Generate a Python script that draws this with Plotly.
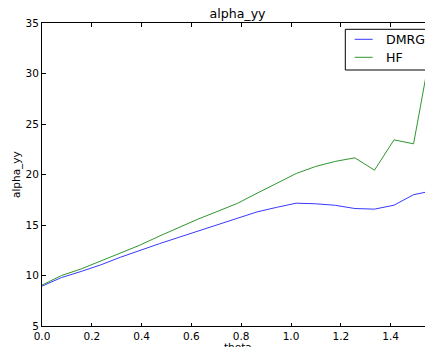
import math
import plotly.graph_objects as go

# theta sampled at k*pi/40, k = 0..20
theta = [k * math.pi / 40 for k in range(21)]
dmrg = [8.95, 9.8, 10.4, 11.05, 11.8, 12.5, 13.15, 13.78, 14.42, 15.07, 15.73,
        16.3, 16.75, 17.16, 17.1, 16.95, 16.63, 16.57, 16.96, 18.0, 18.4]
hf = [9.05, 10.0, 10.65, 11.45, 12.25, 13.0, 13.9, 14.77, 15.6, 16.37, 17.15,
      18.15, 19.15, 20.1, 20.8, 21.3, 21.65, 20.43, 23.43, 23.04, 33.6]
xticks = [0.0, 0.2, 0.4, 0.6, 0.8, 1.0, 1.2, 1.4]
yticks = [5, 10, 15, 20, 25, 30, 35]
series_names = ["DMRG", "HF"]
colors = ["#3838ff", "#2f962f"]

W, H = 425, 347
L, R, T, B = 42, 0, 23, 21
pw, ph = W - L - R, H - T - B
px_per_unit = 249.0

def xp(px):
    return (px - L) / pw

def yp(py):
    return (H - B - py) / ph

fig = go.Figure()
for name, ys, c in zip(series_names, [dmrg, hf], colors):
    fig.add_trace(go.Scatter(x=theta, y=ys, mode="lines", name=name,
                             line=dict(color=c, width=1), showlegend=False))

font = "DejaVu Sans"
fig.update_layout(
    width=W, height=H,
    margin=dict(l=L, r=R, t=T, b=B, autoexpand=False),
    paper_bgcolor="white", plot_bgcolor="white",
    font=dict(family=font, color="black", size=10.5),
    title=dict(text="alpha_yy", x=xp(237.5), xref="paper", xanchor="center",
               y=1 - 14 / H, yref="container", yanchor="middle",
               font=dict(size=12.6, family=font, color="black")),
    xaxis=dict(range=[0, pw / px_per_unit], tickvals=xticks,
               ticktext=[f"{v:.1f}" for v in xticks],
               ticks="inside", ticklen=3.5, tickwidth=1, tickcolor="black",
               showline=True, linecolor="black", linewidth=1, mirror="ticks",
               showgrid=False, zeroline=False,
               tickfont=dict(size=10.5, family=font, color="black")),
    yaxis=dict(range=[5, 35], tickvals=yticks,
               ticks="inside", ticklen=3.5, tickwidth=1, tickcolor="black",
               showline=True, linecolor="black", linewidth=1, mirror=False,
               showgrid=False, zeroline=False,
               tickfont=dict(size=10.5, family=font, color="black")),
)

# axis labels
fig.add_annotation(text="theta", x=xp(238), y=yp(347), xref="paper", yref="paper",
                   showarrow=False, xanchor="center", yanchor="middle",
                   font=dict(size=10.5, family=font, color="black"))
fig.add_annotation(text="alpha_yy", x=xp(16.5), y=0.5, xref="paper", yref="paper",
                   showarrow=False, textangle=-90, xanchor="center", yanchor="middle",
                   font=dict(size=10.5, family=font, color="black"))

# legend box (matplotlib-style)
fig.add_shape(type="rect", xref="paper", yref="paper",
              x0=xp(345.3), x1=xp(440), y0=yp(70), y1=yp(29.3),
              line=dict(color="black", width=1), fillcolor="white", layer="above")
for i, (name, c) in enumerate(zip(series_names, colors)):
    yy = 39.3 + 18 * i
    fig.add_shape(type="line", xref="paper", yref="paper",
                  x0=xp(354.7), x1=xp(372.7), y0=yp(yy), y1=yp(yy),
                  line=dict(color=c, width=1), layer="above")
    fig.add_annotation(text=name, x=xp(384.3), y=yp(yy), xref="paper", yref="paper",
                       showarrow=False, xanchor="left", yanchor="middle",
                       font=dict(size=12.6, family=font, color="black"))

fig.write_html("out.html", config={"displayModeBar": False},
               post_script="document.body.style.margin='0px';document.body.style.overflow='hidden';")
